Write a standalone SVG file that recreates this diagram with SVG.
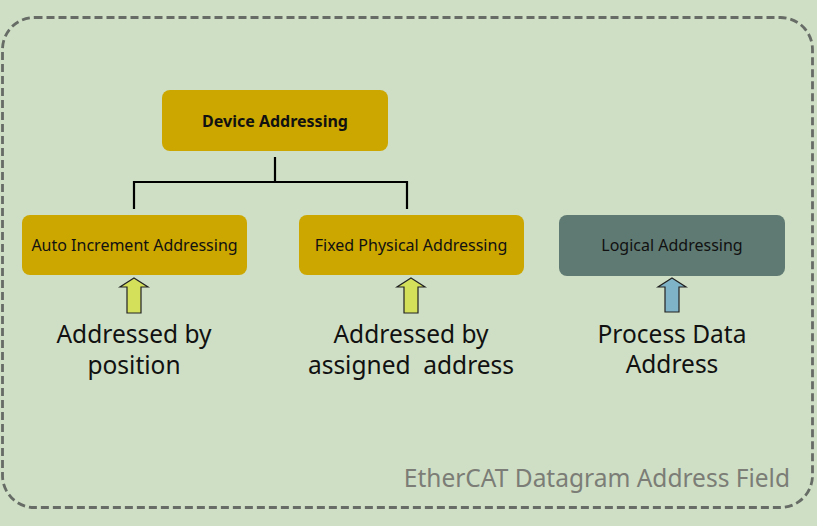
<svg xmlns="http://www.w3.org/2000/svg" width="817" height="526" viewBox="0 0 817 526">
<style>
.box{fill:#cca700}
.lbox{fill:#5f7a72}
.t{font-family:"Noto Sans","Open Sans","DejaVu Sans",sans-serif;fill:#111;text-anchor:middle}
.bt{font-size:16px}
.big{font-size:24.5px}
.conn{fill:none;stroke:#000;stroke-width:2.2}
.arr{stroke:#222;stroke-width:1.2;stroke-linejoin:miter}
</style>
<rect x="0" y="0" width="817" height="526" fill="#cfdfc5"/>
<rect id="frame" x="2.5" y="17.5" width="810" height="490" rx="32" fill="none" stroke="#676c66" stroke-width="2.8" stroke-dasharray="8,4"/>
<g id="connectors">
<path class="conn" d="M275 157V182M134 209V182H407V209"/>
</g>
<g id="device">
<rect class="box" x="162" y="90" width="226" height="61" rx="8"/>
<text class="t bt" x="275" y="126.5" font-weight="bold">Device Addressing</text>
</g>
<g id="auto">
<rect class="box" x="22" y="215" width="225" height="60" rx="8"/>
<text class="t bt" x="134.5" y="251">Auto Increment Addressing</text>
</g>
<g id="fixed">
<rect class="box" x="299" y="215" width="225" height="60" rx="8"/>
<text class="t bt" x="411" y="251">Fixed Physical Addressing</text>
</g>
<g id="logical">
<rect class="lbox" x="559" y="215" width="226" height="61" rx="8"/>
<text class="t bt" x="672" y="251">Logical Addressing</text>
</g>
<g id="arrow-auto">
<polygon class="arr" fill="#d4e05a" points="134,278 148,287 141,287 141,313 127,313 127,287 120,287"/>
</g>
<g id="arrow-fixed">
<polygon class="arr" fill="#d4e05a" points="411,278 425,287 418,287 418,313 404,313 404,287 397,287"/>
</g>
<g id="arrow-logical">
<polygon class="arr" fill="#7fb3c8" points="672,278 686,287 679,287 679,312 665,312 665,287 658,287"/>
</g>
<g id="label-auto">
<text class="t big" x="134" y="343">Addressed by</text>
<text class="t big" x="134" y="374">position</text>
</g>
<g id="label-fixed">
<text class="t big" x="411" y="343">Addressed by</text>
<text class="t big" x="411" y="374" xml:space="preserve">assigned  address</text>
</g>
<g id="label-logical">
<text class="t big" x="672" y="343">Process Data</text>
<text class="t big" x="672" y="373">Address</text>
</g>
<text id="caption" x="790" y="487" font-family="Noto Sans, Open Sans, sans-serif" font-size="24.5" fill="#7b7d76" text-anchor="end">EtherCAT Datagram Address Field</text>
</svg>
